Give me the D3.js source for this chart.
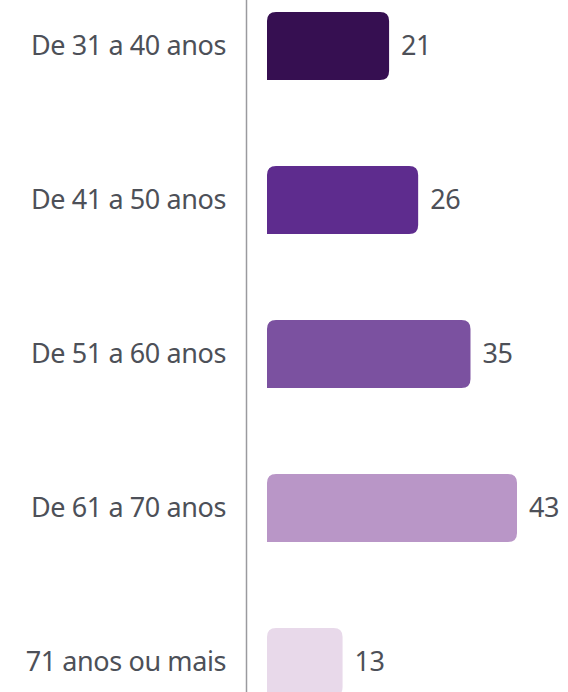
<!DOCTYPE html>
<html>
<head>
<meta charset="utf-8">
<script src="https://cdn.jsdelivr.net/npm/d3@7"></script>
<style>
  body { margin: 0; background: #fff; }
  svg { display: block; }
</style>
</head>
<body>
<svg width="568" height="692"></svg>
<script>
// dados
var faixas = ["De 31 a 40 anos", "De 41 a 50 anos", "De 51 a 60 anos", "De 61 a 70 anos", "71 anos ou mais"];
var valores = [21, 26, 35, 43, 13];
var cores = ["#360f51", "#5e2c8e", "#7b51a0", "#b996c7", "#e8d9ea"];

var svg = d3.select("svg");
var data = faixas.map(function(f, i) { return {faixa: f, valor: valores[i], cor: cores[i]}; });

var y = d3.scaleBand()
    .domain(faixas)
    .range([12, 696])
    .paddingInner(86 / 154)
    .paddingOuter(0);

var x = d3.scaleLinear()
    .domain([0, d3.max(valores)])
    .range([267, 517]);

// barra: canto sup. esq. arredondado, lado direito arredondado
function barPath(x0, x1, y0, h, r) {
  return "M" + x0 + "," + (y0 + h) +
    "V" + (y0 + r) + "Q" + x0 + "," + y0 + " " + (x0 + r) + "," + y0 +
    "H" + (x1 - r) + "Q" + x1 + "," + y0 + " " + x1 + "," + (y0 + r) +
    "V" + (y0 + h - r) + "Q" + x1 + "," + (y0 + h) + " " + (x1 - r) + "," + (y0 + h) +
    "Z";
}

svg.selectAll("path.bar")
    .data(data)
    .enter().append("path")
    .attr("class", "bar")
    .attr("d", function(d) { return barPath(x(0), x(d.valor), y(d.faixa), y.bandwidth(), 9); })
    .attr("fill", function(d) { return d.cor; });

// eixo vertical
svg.append("line")
    .attr("x1", 246.5).attr("x2", 246.5)
    .attr("y1", 0).attr("y2", 692)
    .attr("stroke", "#9a9a9e")
    .attr("stroke-width", 1.5);

// rotulos
svg.selectAll("text.cat")
    .data(data)
    .enter().append("text")
    .attr("class", "cat")
    .attr("x", 226)
    .attr("y", function(d) { return y(d.faixa) + y.bandwidth() / 2; })
    .attr("dy", "0.35em")
    .attr("text-anchor", "end")
    .attr("font-family", "Noto Sans")
    .attr("font-size", 27)
    .attr("letter-spacing", -0.4)
    .attr("fill", "#4d5058")
    .text(function(d) { return d.faixa; });

svg.selectAll("text.val")
    .data(data)
    .enter().append("text")
    .attr("class", "val")
    .attr("x", function(d) { return x(d.valor) + 12; })
    .attr("y", function(d) { return y(d.faixa) + y.bandwidth() / 2; })
    .attr("dy", "0.35em")
    .attr("font-family", "Noto Sans")
    .attr("font-size", 27)
    .attr("letter-spacing", -0.4)
    .attr("fill", "#4d5058")
    .text(function(d) { return d.valor; });
</script>
</body>
</html>
